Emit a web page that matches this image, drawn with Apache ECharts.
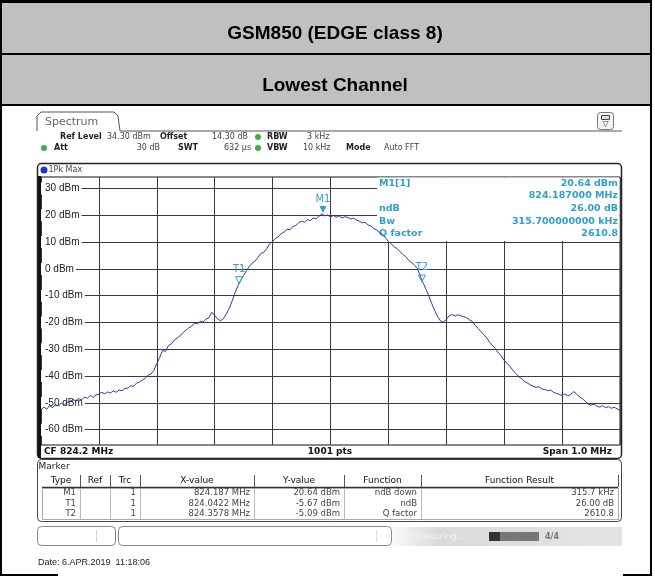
<!DOCTYPE html>
<html>
<head>
<meta charset="utf-8">
<title>GSM850 (EDGE class 8) - Lowest Channel</title>
<script src="https://cdn.jsdelivr.net/npm/echarts@6.0.0/dist/echarts.min.js"></script>
<style>
html, body { margin: 0; padding: 0; background: #fff; }
#chart { width: 655px; height: 576px; }
</style>
</head>
<body>
<div id="chart"></div>
<script>
// 1Pk Max trace, every 5 kHz from 823.7 MHz
const startMHz = 823.7
const stepMHz = 0.005
const traceDbm = [
  -52.5, -51.6, -52.3, -51.0, -51.8, -50.6, -51.2, -50.0, -50.9, -49.8,
  -49.5, -48.7, -49.2, -48.4, -48.9, -47.8, -48.3, -47.2, -47.9, -47.0,
  -46.8, -46.0, -46.6, -45.9, -46.3, -45.5, -46.0, -45.2, -45.5, -44.6,
  -44.4, -43.6, -43.8, -42.6, -42.2, -41.5, -40.8, -39.6, -39.2, -37.8,
  -35.4, -33.0, -30.4, -30.8, -28.6, -28.0, -26.6, -25.8, -25.0, -23.8,
  -22.9, -22.0, -21.4, -20.2, -20.5, -19.6, -19.8, -18.7, -18.2, -16.2,
  -17.4, -18.6, -19.4, -18.6, -16.8, -14.8, -12.0, -9.0, -6.4, -4.2,
  -2.4, -0.6, 1.0, 2.2, 3.0, 4.4, 5.8, 6.2, 7.6, 9.4,
  10.2, 11.4, 12.0, 13.2, 13.8, 14.8, 14.6, 15.8, 16.2, 17.2,
  17.8, 17.4, 18.4, 18.0, 19.0, 18.7, 19.6, 20.6, 19.8, 20.1,
  19.4, 19.9, 19.3, 19.8, 19.0, 19.5, 19.2, 18.6, 19.0, 18.2,
  17.8, 17.2, 17.4, 16.4, 16.0, 15.0, 14.6, 13.4, 12.8, 11.6,
  10.2, 9.4, 8.2, 7.6, 6.4, 5.4, 4.6, 3.2, 2.4, 1.4,
  0.2, -2.6, -5.2, -7.6, -10.2, -13.0, -15.6, -17.8, -19.4, -19.8,
  -18.9, -17.4, -17.0, -17.6, -17.1, -17.5, -17.8, -18.2, -19.0, -19.6,
  -21.0, -22.2, -23.4, -24.6, -25.8, -27.4, -28.6, -29.8, -31.4, -32.4,
  -34.2, -35.2, -36.4, -37.8, -39.0, -40.2, -41.0, -42.0, -42.6, -43.2,
  -43.8, -44.2, -44.0, -44.8, -45.0, -45.4, -45.2, -46.0, -46.4, -46.8,
  -47.2, -46.6, -47.4, -46.8, -45.8, -46.6, -47.8, -48.4, -49.4, -50.4,
  -50.8, -50.4, -51.2, -51.6, -51.0, -51.8, -51.4, -52.0, -51.6, -52.2,
  -52.8
]
const yTicks = [30, 20, 10, 0, -10, -20, -30, -40, -50, -60]

const markerNames = ['M1', 'T1', 'T2']
const markerFreq = [824.187, 824.0422, 824.3578]
const markerLevel = [20.64, -5.67, -5.09]

const infoLeft = ['M1[1]', '', 'ndB', 'Bw', 'Q factor']
const infoRight = ['20.64 dBm', '824.187000 MHz', '26.00 dB', '315.700000000 kHz', '2610.8']

const tableHead = ['Type', 'Ref', 'Trc', 'X-value', 'Y-value', 'Function', 'Function Result']
const tableRows = [
  ['M1', '', '1', '824.187 MHz', '20.64 dBm', 'ndB down', '315.7 kHz'],
  ['T1', '', '1', '824.0422 MHz', '-5.67 dBm', 'ndB', '26.00 dB'],
  ['T2', '', '1', '824.3578 MHz', '-5.09 dBm', 'Q factor', '2610.8']
]

const cyan = '#2f9fd0'
const mono = 'DejaVu Sans'
const arial = 'Liberation Sans'

const txt = (x, y, text, o = {}) => ({
  type: 'text', x, y, z: o.z || 0,
  style: {
    text, fill: o.color || '#222', font: (o.bold ? 'bold ' : '') + (o.size || 8) + 'px "' + (o.family || mono) + '"',
    textAlign: o.align || 'left', textVerticalAlign: 'middle'
  }
})
const line = (x1, y1, x2, y2, color, w = 1) => ({
  type: 'line', shape: { x1, y1, x2, y2 }, style: { stroke: color, lineWidth: w }
})
const box = (x, y, w, h, o = {}) => ({
  type: 'rect', z: o.z || 0, shape: { x, y, width: w, height: h, r: o.r || 0 },
  style: { fill: o.fill || 'none', stroke: o.stroke || null, lineWidth: o.lw || 1 }
})

const graphics = []

// report table header
graphics.push(box(0, 0, 652, 106, { fill: '#c0c0c0' }))
graphics.push(box(0, 0, 652, 3, { fill: '#000' }))
graphics.push(box(0, 53, 652, 2, { fill: '#000' }))
graphics.push(box(0, 104, 652, 2, { fill: '#000' }))
graphics.push(box(0, 0, 2, 576, { fill: '#000' }))
graphics.push(box(650, 0, 2, 576, { fill: '#000' }))
graphics.push(box(0, 574, 58, 2, { fill: '#000' }))
graphics.push(box(623, 574, 29, 2, { fill: '#000' }))
graphics.push(txt(335, 34, 'GSM850 (EDGE class 8)', { size: 19, bold: true, family: arial, color: '#000', align: 'center' }))
graphics.push(txt(335, 86, 'Lowest Channel', { size: 19, bold: true, family: arial, color: '#000', align: 'center' }))

// instrument tab + settings
graphics.push({
  type: 'polyline',
  shape: { points: [[37, 131], [37, 116], [41, 112], [114, 112], [118, 116], [120, 131], [622, 131]] },
  style: { stroke: '#555', lineWidth: 1, fill: 'none' }
})
graphics.push(txt(45, 122, 'Spectrum', { size: 11, color: '#666' }))
graphics.push(box(597.5, 112.5, 16, 17, { r: 3, stroke: '#777', fill: '#f4f4f4' }))
graphics.push(box(601.5, 115.5, 8, 4, { stroke: '#444', fill: '#ddd' }))
graphics.push(txt(605.5, 124, '▽', { size: 8, color: '#444', align: 'center' }))

const r1 = 137, r2 = 148
graphics.push(txt(60, r1, 'Ref Level', { bold: true }))
graphics.push(txt(107, r1, '34.30 dBm', { color: '#444' }))
graphics.push(txt(160, r1, 'Offset', { bold: true }))
graphics.push(txt(212, r1, '14.30 dB', { color: '#444' }))
graphics.push(txt(267, r1, 'RBW', { bold: true }))
graphics.push(txt(307, r1, '3 kHz', { color: '#444' }))
graphics.push(txt(54, r2, 'Att', { bold: true }))
graphics.push(txt(160, r2, '30 dB', { color: '#444', align: 'right' }))
graphics.push(txt(178, r2, 'SWT', { bold: true }))
graphics.push(txt(224, r2, '632 µs', { color: '#444' }))
graphics.push(txt(267, r2, 'VBW', { bold: true }))
graphics.push(txt(303, r2, '10 kHz', { color: '#444' }))
graphics.push(txt(346, r2, 'Mode', { bold: true }))
graphics.push(txt(384, r2, 'Auto FFT', { color: '#444' }))
;[[258, r1], [44, r2], [258, r2]].forEach(([cx, cy]) => {
  graphics.push({ type: 'circle', shape: { cx, cy, r: 3 }, style: { fill: '#3cb043' } })
})

// plot frame
graphics.push(box(37.5, 163.5, 584, 295, { r: 4, stroke: '#222', lw: 1.5 }))
graphics.push(box(38, 176, 3, 282, { fill: '#111' }))
graphics.push({ type: 'circle', shape: { cx: 44, cy: 170, r: 3.5 }, style: { fill: '#2233cc' } })
graphics.push(txt(48.5, 170, '1Pk Max', { color: '#444' }))
graphics.push(txt(44, 452, 'CF 824.2 MHz', { bold: true, size: 9, color: '#111' }))
graphics.push(txt(330, 452, '1001 pts', { bold: true, size: 9, color: '#111', align: 'center' }))
graphics.push(txt(612, 452, 'Span 1.0 MHz', { bold: true, size: 9, color: '#111', align: 'right' }))

// marker readout inside the diagram
graphics.push(box(377, 177.5, 242.5, 63.5, { fill: '#fff', z: 1 }))
const infoY = [183.5, 196, 209, 221.5, 234]
infoLeft.forEach((t, i) => {
  if (t) graphics.push(txt(379, infoY[i], t, { bold: true, size: 9.5, color: cyan, z: 1 }))
  graphics.push(txt(618, infoY[i], infoRight[i], { bold: true, size: 9.5, color: cyan, align: 'right', z: 1 }))
})

// marker table
graphics.push(box(37.5, 459.5, 584, 62, { r: 4, stroke: '#444' }))
graphics.push(txt(38.5, 467, 'Marker', { size: 9, color: '#222' }))
const colEdges = [42, 80, 110, 140, 254, 344, 421, 618]
for (let i = 1; i < colEdges.length; i++) {
  graphics.push(line(colEdges[i] + 0.5, 475, colEdges[i] + 0.5, 487, '#555'))
  graphics.push(line(colEdges[i] + 0.5, 488, colEdges[i] + 0.5, 520, '#bbb'))
}
graphics.push(line(42, 487.5, 618, 487.5, '#333', 1.5))
graphics.push(box(42.5, 488.5, 576, 31, { stroke: '#aaa' }))
tableHead.forEach((h, i) => {
  graphics.push(txt((colEdges[i] + colEdges[i + 1]) / 2, 481, h, { size: 9, color: '#111', align: 'center' }))
})
const rowY = [493, 503.5, 514]
tableRows.forEach((row, r) => {
  row.forEach((cell, i) => {
    if (cell) graphics.push(txt(colEdges[i + 1] - 4, rowY[r], cell, { size: 8.5, color: '#444', align: 'right' }))
  })
})

// status bar
graphics.push(box(37.5, 526.5, 78, 19, { r: 4, stroke: '#888', fill: '#fff' }))
graphics.push(line(96.5, 530, 96.5, 542, '#ccc'))
graphics.push(box(118.5, 526.5, 273, 19, { r: 4, stroke: '#888', fill: '#fff' }))
graphics.push(line(376.5, 530, 376.5, 542, '#ddd'))
graphics.push({
  type: 'rect', shape: { x: 392, y: 527, width: 230, height: 19 },
  style: {
    fill: new echarts.graphic.LinearGradient(0, 0, 1, 0, [
      { offset: 0, color: '#fafafa' }, { offset: 0.2, color: '#dadada' }, { offset: 1, color: '#e4e4e4' }
    ])
  }
})
graphics.push(txt(410, 536.5, 'Measuring...', { size: 9, color: '#f2f2f2' }))
graphics.push(box(489, 532, 50, 9, { fill: '#777' }))
graphics.push(box(489, 532, 11, 9, { fill: '#333' }))
graphics.push(txt(545, 536.5, '4/4', { size: 8, color: '#777', bold: true }))
graphics.push(txt(38, 563, 'Date: 6.APR.2019  11:18:06', { size: 9, family: arial, color: '#222' }))

const chart = echarts.init(document.getElementById('chart'))

chart.setOption({
  animation: false,
  backgroundColor: '#fff',
  grid: {
    left: 41, top: 177, right: 35, bottom: 131,
    show: true, borderColor: '#111', borderWidth: 1,
    outerBoundsMode: 'none'
  },
  xAxis: {
    type: 'value', min: 823.7, max: 824.7, interval: 0.1,
    axisLine: { show: false }, axisTick: { show: false }, axisLabel: { show: false },
    splitLine: { show: true, lineStyle: { color: '#3a3a3a', width: 1 } }
  },
  yAxis: {
    type: 'value', min: -65.7, max: 34.3,
    axisLine: { show: false },
    axisTick: { show: false, customValues: yTicks },
    axisLabel: {
      customValues: yTicks, inside: true, margin: 0,
      formatter: v => v + ' dBm',
      color: '#222', fontSize: 10, fontFamily: arial,
      backgroundColor: '#fff', padding: [1, 2, 1, 4]
    },
    splitLine: { show: true, lineStyle: { color: '#3a3a3a', width: 1 } }
  },
  series: [{
    name: '1Pk Max',
    type: 'line',
    z: 3,
    showSymbol: false,
    data: traceDbm.map((v, i) => [startMHz + i * stepMHz, v]),
    lineStyle: { color: '#2a3caa', width: 1 },
    markPoint: {
      animation: false,
      data: markerNames.map((name, i) => ({
        name,
        coord: [markerFreq[i], markerLevel[i]],
        symbol: 'triangle', symbolRotate: 180, symbolSize: [7, 7], symbolOffset: [0, -4],
        itemStyle: i === 0
          ? { color: cyan }
          : { color: 'rgba(0,0,0,0)', borderColor: cyan, borderWidth: 1 },
        label: { show: true, position: 'top', distance: 2, formatter: name, color: cyan, fontSize: 10, fontFamily: mono }
      }))
    }
  }],
  graphic: { elements: graphics }
})
</script>
</body>
</html>
